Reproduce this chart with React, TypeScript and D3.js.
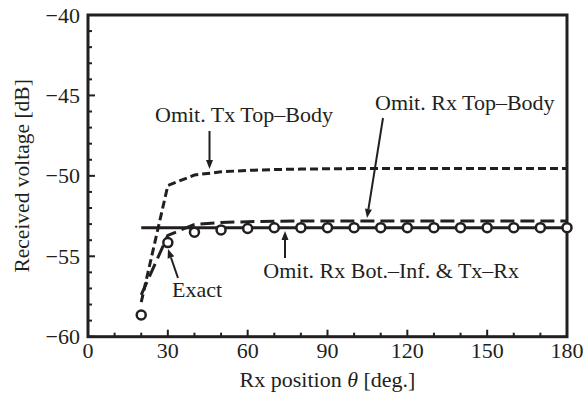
import React from "react";
import * as d3 from "d3";

const thetas = [20, 30, 40, 50, 60, 70, 80, 90, 100, 110, 120, 130, 140, 150, 160, 170, 180];
const exact = [-58.65, -54.15, -53.5, -53.36, -53.27, -53.23, -53.22, -53.22, -53.22, -53.22, -53.22, -53.22, -53.22, -53.22, -53.22, -53.22, -53.22];
const omitRxBotInf = [-53.22, -53.22, -53.22, -53.22, -53.22, -53.22, -53.22, -53.22, -53.22, -53.22, -53.22, -53.22, -53.22, -53.22, -53.22, -53.22, -53.22];
const omitRxTopBody = [-57.4, -53.7, -53.02, -52.9, -52.85, -52.82, -52.8, -52.8, -52.8, -52.8, -52.8, -52.8, -52.8, -52.8, -52.8, -52.8, -52.8];
const omitTxTopBody = [-57.85, -50.6, -49.95, -49.75, -49.66, -49.61, -49.58, -49.56, -49.55, -49.55, -49.55, -49.55, -49.55, -49.55, -49.55, -49.55, -49.55];

const xTicks = [0, 30, 60, 90, 120, 150, 180];
const yTicks = [-60, -55, -50, -45, -40];
const xTitle = "Rx position ";
const yTitle = "Received voltage [dB]";

const INK = "#231f20";
const FONT = "'Liberation Serif', 'Times New Roman', serif";

export default function App() {
  const x = d3.scaleLinear().domain([0, 180]).range([88, 567]);
  const y = d3.scaleLinear().domain([-60, -40]).range([336.7, 15]);

  const line = d3
    .line<number>()
    .x((_, i) => x(thetas[i]))
    .y((v) => y(v));

  const xMinor = d3.range(0, 181, 10);
  const yMinor = d3.range(-60, -39, 1);

  const arrow = (x1: number, y1: number, x2: number, y2: number, key: string) => {
    const ang = Math.atan2(y2 - y1, x2 - x1);
    const L = 9;
    const W = 3.5;
    const bx = x2 - L * Math.cos(ang);
    const by = y2 - L * Math.sin(ang);
    const px = -Math.sin(ang) * W;
    const py = Math.cos(ang) * W;
    return (
      <g key={key}>
        <line x1={x1} y1={y1} x2={bx} y2={by} stroke={INK} strokeWidth={2} />
        <path d={`M${x2},${y2}L${bx + px},${by + py}L${bx - px},${by - py}Z`} fill={INK} />
      </g>
    );
  };

  return (
    <svg
      width={586}
      height={403}
      style={{ position: "absolute", left: 0, top: 0, background: "#fff" }}
      fontFamily={FONT}
    >
      {/* minor ticks */}
      {xMinor.map((t) => (
        <line key={"xm" + t} x1={x(t)} x2={x(t)} y1={y(-60)} y2={y(-60) - (t % 30 === 0 ? 7 : 4)} stroke={INK} strokeWidth={2} />
      ))}
      {yMinor.map((t) => (
        <line key={"ym" + t} x1={x(0)} x2={x(0) + (t % 5 === 0 ? 7 : 4)} y1={y(t)} y2={y(t)} stroke={INK} strokeWidth={2} />
      ))}

      {/* frame */}
      <rect x={x(0)} y={y(-40)} width={x(180) - x(0)} height={y(-60) - y(-40)} fill="none" stroke={INK} strokeWidth={3} />

      {/* tick labels */}
      {xTicks.map((t) => (
        <text key={"xt" + t} x={x(t)} y={358} textAnchor="middle" fontSize={22} fill={INK}>
          {t}
        </text>
      ))}
      {yTicks.map((t) => (
        <text key={"yt" + t} x={80} y={y(t) + 7.5} textAnchor="end" fontSize={22} fill={INK}>
          {"\u2212" + Math.abs(t)}
        </text>
      ))}

      {/* axis titles */}
      <text x={(x(0) + x(180)) / 2} y={387} textAnchor="middle" fontSize={22} fill={INK}>
        {xTitle}
        <tspan fontStyle="italic">θ</tspan>
        {" [deg.]"}
      </text>
      <text
        transform={`translate(29,${(y(-40) + y(-60)) / 2}) rotate(-90)`}
        textAnchor="middle"
        fontSize={21.5}
        fill={INK}
      >
        {yTitle}
      </text>

      {/* series */}
      <path d={line(omitTxTopBody) || ""} fill="none" stroke={INK} strokeWidth={3} strokeDasharray="8,4" />
      <path d={line(omitRxTopBody) || ""} fill="none" stroke={INK} strokeWidth={3} strokeDasharray="14,6" />
      <path d={line(omitRxBotInf) || ""} fill="none" stroke={INK} strokeWidth={3} />
      {exact.map((v, i) => (
        <circle key={"c" + i} cx={x(thetas[i])} cy={y(v)} r={4.5} fill="#fff" stroke={INK} strokeWidth={2.5} />
      ))}

      {/* annotations */}
      <text x={155} y={122} fontSize={22} fill={INK}>Omit. Tx Top–Body</text>
      {arrow(209.5, 131, 209.5, 169, "a1")}
      <text x={375} y={110} fontSize={22} fill={INK}>Omit. Rx Top–Body</text>
      {arrow(383, 118, 367, 218, "a2")}
      <text x={519} y={278} textAnchor="end" fontSize={22} fill={INK}>Omit. Rx Bot.–Inf. &amp; Tx–Rx</text>
      {arrow(285, 258, 285, 231, "a3")}
      <text x={172} y={297} fontSize={22} fill={INK}>Exact</text>
      {arrow(178, 278, 168, 249, "a4")}
    </svg>
  );
}
